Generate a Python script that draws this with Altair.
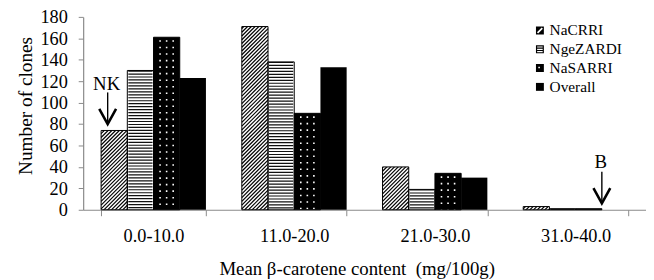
import altair as alt
import pandas as pd

# ---------------- data ----------------
categories = ["0.0-10.0", "11.0-20.0", "21.0-30.0", "31.0-40.0"]
series = ["NaCRRI", "NgeZARDI", "NaSARRI", "Overall"]
nacrri = [74, 171, 40, 3]
ngezardi = [130, 138, 19, 1]
nasarri = [161, 90, 34, 1]
overall = [123, 133, 30, 0]

y_ticks = [0, 20, 40, 60, 80, 100, 120, 140, 160, 180]

ann_label = ["NK", "B"]
ann_cat = ["0.0-10.0", "31.0-40.0"]
ann_slot = [1, 12]          # slot on a 0..16 grid across the group of bars
ann_text_y = [112, 39]
ann_top = [109.5, 35.5]
ann_tip = [80, 6]

# ---------------- layout / style ----------------
W, H = 569, 195
PAD_INNER = 0.255
UNIT_PX = H / 180.0
BAR_PX = W / len(categories) * (1 - PAD_INNER) / len(series)
FONT = "Liberation Serif"
GREY = "#8a8a8a"
FINE = list(range(17))

rows = []
for i, c in enumerate(categories):
    for s, vals in zip(series, [nacrri, ngezardi, nasarri, overall]):
        rows.append({"cat": c, "series": s, "value": vals[i]})
bars = pd.DataFrame(rows)

# diagonal hatch lines for NaCRRI, derived from its values
rise = BAR_PX / UNIT_PX
step = 3.8 / UNIT_PX
hatch_rows = []
lid = 0
for c, v in zip(categories, nacrri):
    k = 0
    while True:
        s = -rise + 0.8 / UNIT_PX + k * step
        if s >= v:
            break
        hatch_rows.append({"cat": c, "lid": lid, "pos": 0, "value": s})
        hatch_rows.append({"cat": c, "lid": lid, "pos": 4, "value": s + rise})
        lid += 1
        k += 1
hatch = pd.DataFrame(hatch_rows)

cover = pd.DataFrame({"cat": categories, "pos": 2,
                      "value": nacrri, "ctop": [v + rise + 2 for v in nacrri]})

stripes = pd.DataFrame({"cat": categories, "pos": 6, "value": ngezardi})

dot_rows = []
for c, v in zip(categories, nasarri):
    if v >= 5:
        for p in (9, 10, 11):
            dot_rows.append({"cat": c, "pos": p, "value": v})
dots = pd.DataFrame(dot_rows)

ann = pd.DataFrame({"label": ann_label, "cat": ann_cat, "pos": ann_slot,
                    "ty": ann_text_y, "value": ann_top, "tip": ann_tip})

# ---------------- encodings ----------------
xscale = alt.Scale(domain=categories, paddingInner=PAD_INNER, paddingOuter=PAD_INNER / 2)
yscale = alt.Scale(domain=[0, 180], nice=False)

X_TITLE = "Mean β-carotene content\u00a0 (mg/100g)"
Y_TITLE = "Number of clones"

x_axis = alt.Axis(
    title=X_TITLE, labelAngle=0, tickBand="extent",
    tickSize=6, labelPadding=26.5, labelBaseline="alphabetic",
    titleX=276.5, titleY=65.5, titleBaseline="alphabetic", titleAlign="center",
    titleFontSize=19,
)
y_axis = alt.Axis(
    title=Y_TITLE, values=y_ticks, tickSize=5, labelPadding=11,
    titleAngle=270, titleX=-52, titleY=89.5, titleBaseline="alphabetic",
    titleAlign="center", titleFontSize=19.5,
)

X = alt.X("cat:N", scale=xscale, axis=x_axis, title=X_TITLE)


def Yq(field):
    return alt.Y(f"{field}:Q", scale=yscale, axis=y_axis, title=Y_TITLE)


XO_series = alt.XOffset("series:N", scale=alt.Scale(domain=series, paddingInner=0, paddingOuter=0))
XO_fine = alt.XOffset("pos:O", scale=alt.Scale(type="point", domain=FINE, padding=0))

base = alt.Chart(bars).transform_filter("datum.value > 0").mark_bar().encode(
    x=X, xOffset=XO_series, y=Yq("value"),
    fill=alt.condition("datum.series == 'NaSARRI' || datum.series == 'Overall'",
                       alt.value("black"), alt.value("white")),
)

hatch_layer = alt.Chart(hatch).mark_line(clip=True, strokeWidth=1.2, color="black").encode(
    x=X, xOffset=XO_fine, y=Yq("value"), detail="lid:N", order="pos:Q"
)

cover_layer = alt.Chart(cover).mark_rule(
    clip=True, strokeWidth=BAR_PX + 4, color="white", strokeCap="butt"
).encode(x=X, xOffset=XO_fine, y=Yq("value"), y2="ctop:Q")

stripe_layer = alt.Chart(stripes).mark_rule(
    strokeWidth=BAR_PX - 2, color="#111", strokeDash=[1.2, 1.8]
).encode(x=X, xOffset=XO_fine, y=Yq("value"), y2=alt.Y2(datum=0))

dot_layer = alt.Chart(dots).mark_rule(
    strokeWidth=1.6, color="white", strokeDash=[1.6, 5], strokeDashOffset=-3
).encode(x=X, xOffset=XO_fine, y=Yq("value"), y2=alt.Y2(datum=0))

outline = alt.Chart(bars).transform_filter(
    "datum.value > 0 && datum.series != 'Overall'"
).mark_bar(fillOpacity=0, stroke="black", strokeWidth=1).encode(
    x=X, xOffset=XO_series, y=Yq("value")
)

shafts = alt.Chart(ann).mark_rule(strokeWidth=1.4, color="black").encode(
    x=X, xOffset=XO_fine, y=Yq("value"), y2="tip:Q"
)
heads = alt.Chart(ann).mark_point(
    shape="M-1,-1.8L0,0L1,-1.8", size=289, filled=False, strokeWidth=2.6,
    color="black", opacity=1
).encode(x=X, xOffset=XO_fine, y=Yq("tip"))
texts = alt.Chart(ann).mark_text(
    font=FONT, fontSize=19, baseline="alphabetic", align="center", dx=-1, color="black"
).encode(x=X, xOffset=XO_fine, y=Yq("ty"), text="label:N")

legend_paths = [
    "M-1,-1H1V1H-1Z M-0.75,0.45L-0.45,0.75L0.75,-0.45L0.45,-0.75Z",
    "M-1,-1H1V1H-1Z M-0.7,-0.72V-0.42H0.7V-0.72Z M-0.7,-0.15V0.15H0.7V-0.15Z M-0.7,0.42V0.72H0.7V0.42Z",
    "M-1,-1H1V1H-1Z M-0.4,-0.35V0.05H0V-0.35Z",
    "square",
]
legend_pts = alt.Chart(bars).mark_point(filled=True, opacity=0, color="black").encode(
    x=X, xOffset=XO_series, y=Yq("value"),
    shape=alt.Shape("series:N", scale=alt.Scale(domain=series, range=legend_paths),
                    legend=alt.Legend(
                        title=None, orient="none", legendX=454, legendY=6, padding=0,
                        symbolSize=64, symbolFillColor="black", symbolStrokeWidth=0,
                        symbolOpacity=1, labelOffset=2, rowPadding=2, labelLimit=300,
                    )),
)

chart = alt.layer(
    base, hatch_layer, cover_layer, stripe_layer, dot_layer, outline,
    shafts, heads, texts, legend_pts
).resolve_scale(xOffset="independent").properties(
    width=W, height=H, background="white",
    padding={"left": 76, "top": 7.5, "right": 0, "bottom": 69},
    autosize=alt.AutoSizeParams(type="none"),
).configure(
    font=FONT
).configure_view(
    stroke=None
).configure_axis(
    labelFont=FONT, labelFontSize=18.5, labelColor="black", titleFont=FONT,
    titleFontWeight="normal", titleColor="black", tickColor=GREY, domainColor=GREY,
    domainWidth=1.2, grid=False,
).configure_legend(
    labelFont=FONT, labelFontSize=15.5, labelColor="black",
)

chart.save("out.html", embed_options={"renderer": "svg", "actions": False})
